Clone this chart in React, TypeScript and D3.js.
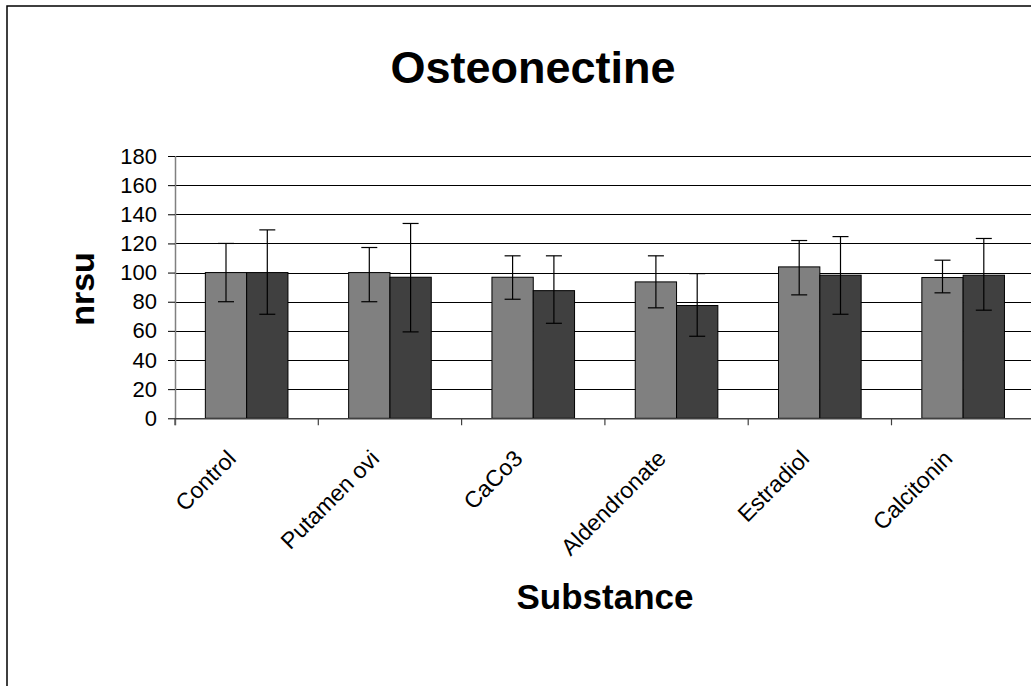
import { useEffect, useRef } from "react";
import * as d3 from "d3";

const categories = ["Control", "Putamen ovi", "CaCo3", "Aldendronate", "Estradiol", "Calcitonin"];
const seriesNames = ["A", "B"];
const meansA = [100, 100, 96.8, 93.6, 103.9, 96.6];
const lowA = [80, 80, 81.7, 75.8, 84.7, 86.1];
const highA = [120, 117.2, 111.5, 111.5, 122, 108.5];
const meansB = [100, 96.8, 87.6, 77.4, 98.2, 98.2];
const lowB = [71.4, 59.3, 65.2, 56.3, 71.4, 74.2];
const highB = [129.3, 133.7, 111.5, 99.3, 124.7, 123.4];
const yTicks = [0, 20, 40, 60, 80, 100, 120, 140, 160, 180];
const colors = ["#808080", "#404040"];

function App() {
  const svgRef = useRef<SVGSVGElement>(null);

  useEffect(() => {
    const width = 1031;
    const height = 686;
    const left = 175;
    const catW = 143.3;
    const right = left + catW * categories.length;
    const top = 156;
    const bottom = 418.3;
    const barW = 41.3;
    const font = "Arial, 'Liberation Sans', sans-serif";

    const svg = d3.select(svgRef.current).attr("width", width).attr("height", height);
    svg.selectAll("*").remove();

    // outer frame
    svg.append("rect")
      .attr("x", 7).attr("y", 6)
      .attr("width", width + 20).attr("height", height + 20)
      .attr("fill", "white").attr("stroke", "black").attr("stroke-width", 1.5);

    const x = d3.scaleBand().domain(categories).range([left, right]).padding(0);
    const xs = d3.scaleBand().domain(seriesNames)
      .range([x.bandwidth() / 2 - barW, x.bandwidth() / 2 + barW]);
    const y = d3.scaleLinear().domain([0, 180]).range([bottom, top]);

    // gridlines
    svg.append("g").selectAll("line").data(yTicks.filter((t) => t > 0)).join("line")
      .attr("x1", left).attr("x2", right)
      .attr("y1", (d) => Math.round(y(d)) + 0.5).attr("y2", (d) => Math.round(y(d)) + 0.5)
      .attr("stroke", "black").attr("stroke-width", 1);

    // y axis
    const yAxis = svg.append("g")
      .attr("transform", `translate(${left},0)`)
      .call(d3.axisLeft(y).tickValues(yTicks).tickSize(7).tickPadding(11));
    yAxis.select(".domain").attr("stroke", "#808080").attr("stroke-width", 1.5)
      .attr("d", `M0.5,${top}V${bottom + 7}`);
    yAxis.selectAll(".tick line").attr("stroke", "black");
    yAxis.selectAll("text").attr("font-family", font).attr("font-size", 22).attr("fill", "black");

    const series = [
      { means: meansA, low: lowA, high: highA },
      { means: meansB, low: lowB, high: highB },
    ];

    series.forEach((s, si) => {
      const g = svg.append("g");
      g.selectAll("rect").data(categories).join("rect")
        .attr("x", (c) => (x(c) as number) + (xs(seriesNames[si]) as number))
        .attr("y", (_, i) => y(s.means[i]))
        .attr("width", xs.bandwidth())
        .attr("height", (_, i) => bottom - y(s.means[i]))
        .attr("fill", colors[si]).attr("stroke", "black").attr("stroke-width", 1);
    });

    series.forEach((s, si) => {
      const g = svg.append("g").attr("stroke", "black").attr("stroke-width", 1.2);
      categories.forEach((c, i) => {
        const cx = (x(c) as number) + (xs(seriesNames[si]) as number) + xs.bandwidth() / 2;
        g.append("line").attr("x1", cx).attr("x2", cx).attr("y1", y(s.low[i])).attr("y2", y(s.high[i]));
        [s.low[i], s.high[i]].forEach((v) => {
          g.append("line").attr("x1", cx - 8).attr("x2", cx + 8).attr("y1", y(v)).attr("y2", y(v));
        });
      });
    });

    // x axis
    svg.append("line").attr("x1", left).attr("x2", right)
      .attr("y1", bottom + 0.5).attr("y2", bottom + 0.5)
      .attr("stroke", "#404040").attr("stroke-width", 1.5);
    svg.append("g").selectAll("line").data(d3.range(categories.length + 1)).join("line")
      .attr("x1", (i) => left + i * catW).attr("x2", (i) => left + i * catW)
      .attr("y1", bottom).attr("y2", bottom + 7)
      .attr("stroke", "#404040").attr("stroke-width", 1.2);

    svg.append("g").selectAll("text").data(categories).join("text")
      .attr("transform", (c) => `translate(${(x(c) as number) + x.bandwidth() / 2 - 15},${bottom + 36}) rotate(-45)`)
      .attr("text-anchor", "end")
      .attr("dy", "0.35em")
      .attr("font-family", font).attr("font-size", 23)
      .text((c) => c);

    // titles
    svg.append("text").attr("x", 533).attr("y", 83)
      .attr("text-anchor", "middle").attr("font-family", font)
      .attr("font-weight", "bold").attr("font-size", 45).text("Osteonectine");

    svg.append("text").attr("x", 605).attr("y", 609)
      .attr("text-anchor", "middle").attr("font-family", font)
      .attr("font-weight", "bold").attr("font-size", 35).text("Substance");

    svg.append("text").attr("transform", `translate(94,289) rotate(-90)`)
      .attr("text-anchor", "middle").attr("font-family", font)
      .attr("font-weight", "bold").attr("font-size", 34).text("nrsu");
  }, []);

  return (
    <svg ref={svgRef} style={{ position: "absolute", left: 0, top: 0 }}></svg>
  );
}

export default App;
